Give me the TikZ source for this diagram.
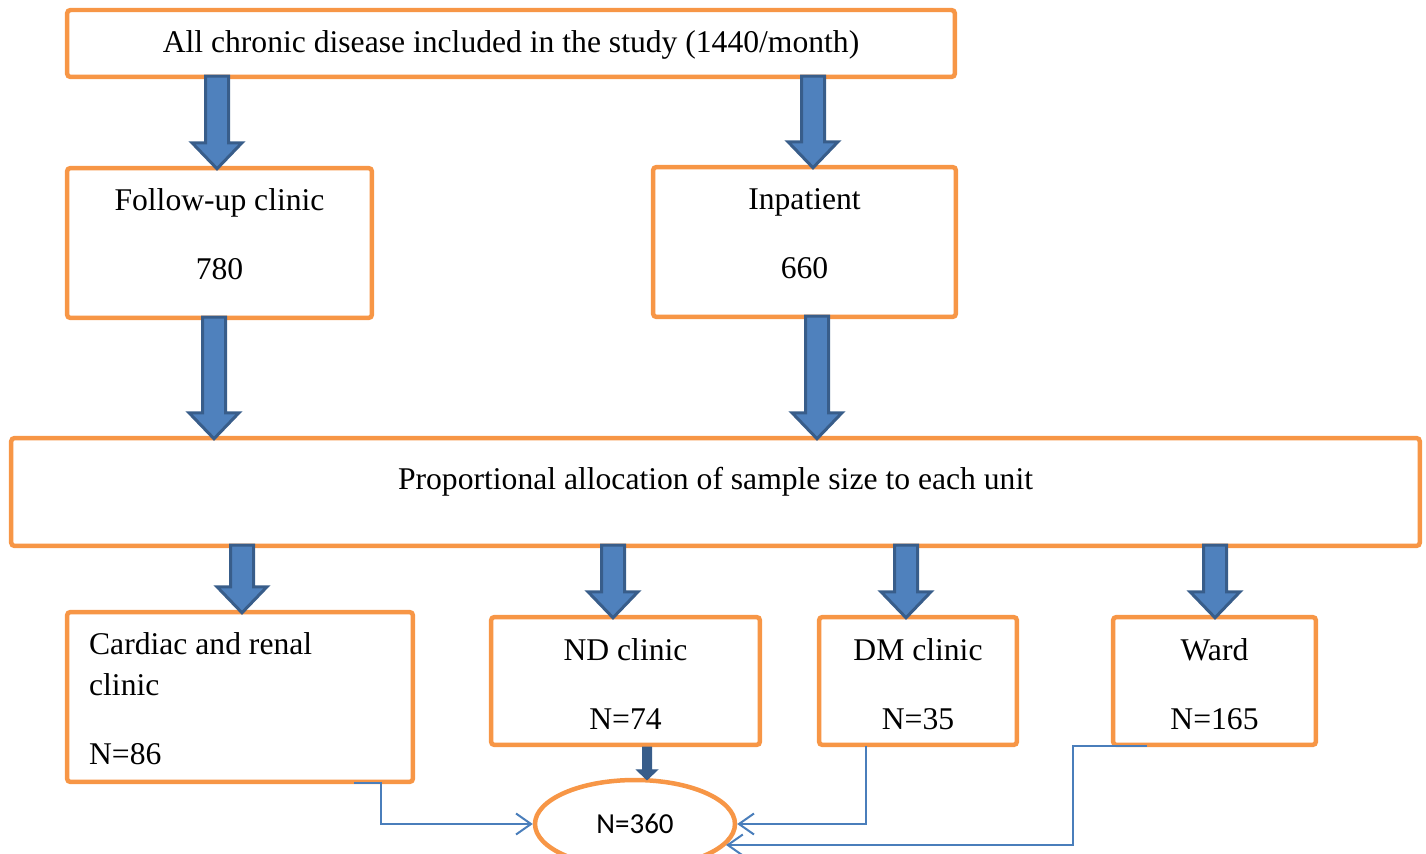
\documentclass[tikz,border=0pt]{standalone}
\usepackage{fontspec}
\setmainfont{Liberation Serif}
\newfontfamily\calibri{Carlito}
\usetikzlibrary{arrows.meta,positioning,calc,shapes.geometric}

\definecolor{boxOrange}{HTML}{F79646}
\definecolor{arrowFill}{HTML}{4F81BD}
\definecolor{arrowEdge}{HTML}{385D8A}
\definecolor{linkBlue}{HTML}{4A7EBB}

% Block arrow dimensions
\newlength{\shaftHalf}\setlength{\shaftHalf}{0.23cm}
\newlength{\headHalf}\setlength{\headHalf}{0.5cm}
\newlength{\headLen}\setlength{\headLen}{0.52cm}

% Vertical block arrow from #2 down to #3
\newcommand{\blockarrow}[3][blockArrow]{%
    \draw[#1] let \p1=(#2), \p2=(#3) in
        (\x1-\shaftHalf,\y1) -- (\x1-\shaftHalf,\y2+\headLen)
        -- (\x1-\headHalf,\y2+\headLen) -- (\x1,\y2)
        -- (\x1+\headHalf,\y2+\headLen) -- (\x1+\shaftHalf,\y2+\headLen)
        -- (\x1+\shaftHalf,\y1) -- cycle;}

\begin{document}
\begin{tikzpicture}[
        x=0.02cm, y=-0.02cm,
        unitBox/.style={
            draw=boxOrange,
            fill=white,
            line width=0.09cm,
            rounded corners=2pt,
            inner sep=0pt
        },
        txt/.style={
            font=\fontsize{18}{22}\selectfont,
            inner sep=0pt,
            anchor=base
        },
        blockArrow/.style={
            fill=arrowFill,
            draw=arrowEdge,
            line width=0.06cm
        },
        smallArrow/.style={
            fill=arrowEdge,
            draw=arrowEdge,
            line width=0.02cm
        },
        link/.style={
            draw=linkBlue,
            line width=0.04cm,
            -{Straight Barb[length=0.3cm,width=0.42cm]}
        }
    ]

        \clip (0,0) rectangle (1426,854);

        % Boxes
        \node[unitBox, minimum width=17.76cm, minimum height=1.34cm] (top) at (511,43.5) {};
        \node[unitBox, minimum width=6.1cm, minimum height=3cm] (fup) at (219.5,243) {};
        \node[unitBox, minimum width=6.06cm, minimum height=3cm] (inp) at (804.5,242) {};
        \node[unitBox, minimum width=28.18cm, minimum height=2.16cm] (prop) at (715.5,492) {};
        \node[unitBox, minimum width=6.92cm, minimum height=3.4cm] (card) at (240,697) {};
        \node[unitBox, minimum width=5.38cm, minimum height=2.56cm] (nd) at (625.5,681) {};
        \node[unitBox, minimum width=3.96cm, minimum height=2.56cm] (dm) at (918,681) {};
        \node[unitBox, minimum width=4.06cm, minimum height=2.56cm] (ward) at (1214.5,681) {};
        \node[unitBox, ellipse, minimum width=4cm, minimum height=1.76cm,
            font=\calibri\fontsize{16.5}{18}\selectfont] (total) at (635,824) {N=360};

        % Box texts
        \node[txt] (topT) at ($(top.north)+(0,45)$) {All chronic disease included in the study (1440/month)};
        \node[txt] (fupA) at ($(fup.north)+(0,45)$) {Follow-up clinic};
        \node[txt] (fupN) at ($(fup.north)+(0,114)$) {780};
        \node[txt] (inpA) at ($(inp.north)+(0,45)$) {Inpatient};
        \node[txt] (inpN) at ($(inp.north)+(0,114)$) {660};
        \node[txt] (propT) at ($(prop.north)+(0,54)$) {Proportional allocation of sample size to each unit};
        \node[txt, anchor=base west] (cardA) at ($(card.north west)+(24,45)$) {Cardiac and renal};
        \node[txt, anchor=base west] (cardB) at ($(card.north west)+(24,86)$) {clinic};
        \node[txt, anchor=base west] (cardN) at ($(card.north west)+(24,155)$) {N=86};
        \node[txt] (ndA) at ($(nd.north)+(0,46)$) {ND clinic};
        \node[txt] (ndN) at ($(nd.north)+(0,115)$) {N=74};
        \node[txt] (dmA) at ($(dm.north)+(0,46)$) {DM clinic};
        \node[txt] (dmN) at ($(dm.north)+(0,115)$) {N=35};
        \node[txt] (wardA) at ($(ward.north)+(0,46)$) {Ward};
        \node[txt] (wardN) at ($(ward.north)+(0,115)$) {N=165};

        % Arrow columns
        \coordinate (colFup) at (217,0);
        \coordinate (colInp) at (813,0);
        \coordinate (colFupDown) at (214,0);
        \coordinate (colInpDown) at (817,0);
        \coordinate (colCard) at (242,0);
        \coordinate (colNd) at (613,0);
        \coordinate (colDm) at (906,0);
        \coordinate (colWard) at (1215,0);
        \coordinate (colTotal) at (647,0);

        % Block arrows
        \blockarrow{$(top.south -| colFup)+(0,-3)$}{$(fup.north -| colFup)+(0,3)$}
        \blockarrow{$(top.south -| colInp)+(0,-3)$}{$(inp.north -| colInp)+(0,3)$}
        \blockarrow{$(fup.south -| colFupDown)+(0,-3)$}{$(prop.north -| colFupDown)+(0,3)$}
        \blockarrow{$(inp.south -| colInpDown)+(0,-3)$}{$(prop.north -| colInpDown)+(0,3)$}
        \blockarrow{$(prop.south -| colCard)+(0,-3)$}{$(card.north -| colCard)+(0,3)$}
        \blockarrow{$(prop.south -| colNd)+(0,-3)$}{$(nd.north -| colNd)+(0,3)$}
        \blockarrow{$(prop.south -| colDm)+(0,-3)$}{$(dm.north -| colDm)+(0,3)$}
        \blockarrow{$(prop.south -| colWard)+(0,-3)$}{$(ward.north -| colWard)+(0,3)$}

        % Small arrow into the total
        \begin{scope}
            \setlength{\shaftHalf}{0.09cm}
            \setlength{\headHalf}{0.21cm}
            \setlength{\headLen}{0.2cm}
            \blockarrow[smallArrow]{nd.south -| colTotal}{$(total.north -| colTotal)+(0,2)$}
        \end{scope}

        % Links to the total
        \draw[link] ($(card.south east)+(-61,-1)$) -- ++(27,0) |- (total.west);
        \draw[link] ($(dm.south west)+(49,-1)$) |- (total.east);
        \draw[link] ($(ward.south west)+(36,-1)$) -- ++(-74,0) |- (total.-13);

    \end{tikzpicture}
\end{document}
